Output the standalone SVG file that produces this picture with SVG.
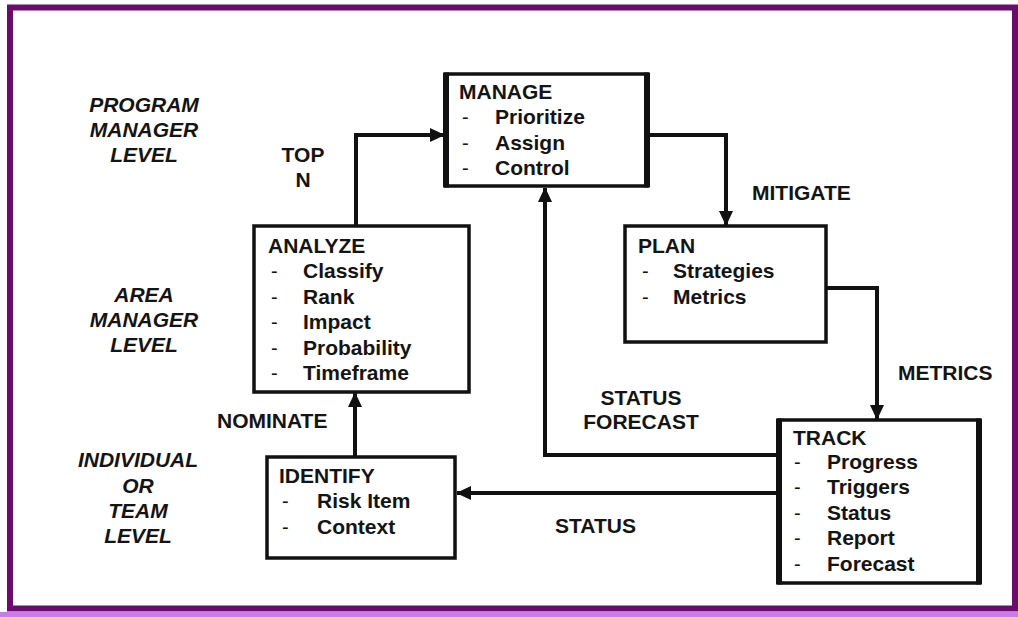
<svg xmlns="http://www.w3.org/2000/svg" width="1018" height="617" viewBox="0 0 1018 617">
  <style>
    .box { fill: #ffffff; stroke: #111111; stroke-width: 3.5; }
    .side { stroke: #111111; stroke-width: 6; }
    .t { font-family: "Liberation Sans", Arial, sans-serif; font-weight: bold; font-size: 21px; fill: #141414; }
    .lvl { font-family: "Liberation Sans", Arial, sans-serif; font-weight: bold; font-style: italic; font-size: 21px; fill: #141414; text-anchor: middle; }
    .dash { font-family: "Liberation Sans", Arial, sans-serif; font-size: 20px; fill: #141414; }
    .wire { fill: none; stroke: #111111; stroke-width: 4; stroke-linejoin: miter; }
  </style>
  <defs>
    <marker id="arrow" markerUnits="userSpaceOnUse" markerWidth="15" markerHeight="14" viewBox="0 0 15 14" refX="14" refY="7" orient="auto">
      <path d="M0,0 L15,7 L0,14 z" fill="#111111"/>
    </marker>
  </defs>

  <!-- frame -->
  <rect x="0" y="0" width="1018" height="617" fill="#ffffff"/>
  <rect x="0" y="612" width="1018" height="5" fill="#c87ee6"/>
  <rect x="10" y="7.5" width="1005" height="601" fill="none" stroke="#6c0b6e" stroke-width="6"/>

  <!-- level labels -->
  <g id="level-program">
    <text class="lvl" x="144" y="112">PROGRAM</text>
    <text class="lvl" x="144" y="137">MANAGER</text>
    <text class="lvl" x="144" y="162">LEVEL</text>
  </g>
  <g id="level-area">
    <text class="lvl" x="144" y="302">AREA</text>
    <text class="lvl" x="144" y="327">MANAGER</text>
    <text class="lvl" x="144" y="352">LEVEL</text>
  </g>
  <g id="level-team">
    <text class="lvl" x="138" y="467">INDIVIDUAL</text>
    <text class="lvl" x="138" y="493">OR</text>
    <text class="lvl" x="138" y="518">TEAM</text>
    <text class="lvl" x="138" y="543">LEVEL</text>
  </g>

  <!-- connectors -->
  <g id="connectors">
    <path class="wire" d="M355,457 V393" marker-end="url(#arrow)"/>
    <path class="wire" d="M356,226 V135 H444" marker-end="url(#arrow)"/>
    <path class="wire" d="M647,135 H726 V225" marker-end="url(#arrow)"/>
    <path class="wire" d="M826,288 H877 V419" marker-end="url(#arrow)"/>
    <path class="wire" d="M779,455 H545 V188" marker-end="url(#arrow)"/>
    <path class="wire" d="M779,493 H457" marker-end="url(#arrow)"/>
    <text class="t" x="303" y="162" text-anchor="middle">TOP</text>
    <text class="t" x="303" y="187" text-anchor="middle">N</text>
    <text class="t" x="752" y="200">MITIGATE</text>
    <text class="t" x="898" y="380">METRICS</text>
    <text class="t" x="641" y="405" text-anchor="middle">STATUS</text>
    <text class="t" x="641" y="429" text-anchor="middle">FORECAST</text>
    <text class="t" x="217" y="428">NOMINATE</text>
    <text class="t" x="555" y="533">STATUS</text>
  </g>

  <!-- MANAGE -->
  <g id="manage">
    <rect class="box" x="446" y="74" width="201" height="112"/>
    <line class="side" x1="446" y1="72.5" x2="446" y2="187.5"/>
    <line class="side" x1="647" y1="72.5" x2="647" y2="187.5"/>
    <text class="t" x="459" y="99">MANAGE</text>
    <text class="dash" x="462" y="124">-</text>
    <text class="t" x="495" y="124">Prioritize</text>
    <text class="dash" x="462" y="150">-</text>
    <text class="t" x="495" y="150">Assign</text>
    <text class="dash" x="462" y="175">-</text>
    <text class="t" x="495" y="175">Control</text>
  </g>

  <!-- ANALYZE -->
  <g id="analyze">
    <rect class="box" x="254" y="226" width="215" height="166"/>
    <text class="t" x="268" y="253">ANALYZE</text>
    <text class="dash" x="271" y="278">-</text>
    <text class="t" x="303" y="278">Classify</text>
    <text class="dash" x="271" y="304">-</text>
    <text class="t" x="303" y="304">Rank</text>
    <text class="dash" x="271" y="329">-</text>
    <text class="t" x="303" y="329">Impact</text>
    <text class="dash" x="271" y="355">-</text>
    <text class="t" x="303" y="355">Probability</text>
    <text class="dash" x="271" y="380">-</text>
    <text class="t" x="303" y="380">Timeframe</text>
  </g>

  <!-- PLAN -->
  <g id="plan">
    <rect class="box" x="625" y="226" width="201" height="116"/>
    <text class="t" x="638" y="253">PLAN</text>
    <text class="dash" x="642" y="278">-</text>
    <text class="t" x="673" y="278">Strategies</text>
    <text class="dash" x="642" y="304">-</text>
    <text class="t" x="673" y="304">Metrics</text>
  </g>

  <!-- TRACK -->
  <g id="track">
    <rect class="box" x="779" y="420" width="200" height="163"/>
    <line class="side" x1="779" y1="418.5" x2="779" y2="584.5"/>
    <line class="side" x1="979" y1="418.5" x2="979" y2="584.5"/>
    <text class="t" x="793" y="445">TRACK</text>
    <text class="dash" x="794" y="469">-</text>
    <text class="t" x="827" y="469">Progress</text>
    <text class="dash" x="794" y="494">-</text>
    <text class="t" x="827" y="494">Triggers</text>
    <text class="dash" x="794" y="520">-</text>
    <text class="t" x="827" y="520">Status</text>
    <text class="dash" x="794" y="545">-</text>
    <text class="t" x="827" y="545">Report</text>
    <text class="dash" x="794" y="571">-</text>
    <text class="t" x="827" y="571">Forecast</text>
  </g>

  <!-- IDENTIFY -->
  <g id="identify">
    <rect class="box" x="267" y="457" width="188" height="101"/>
    <text class="t" x="279" y="483">IDENTIFY</text>
    <text class="dash" x="282" y="508">-</text>
    <text class="t" x="317" y="508">Risk Item</text>
    <text class="dash" x="282" y="534">-</text>
    <text class="t" x="317" y="534">Context</text>
  </g>
</svg>
